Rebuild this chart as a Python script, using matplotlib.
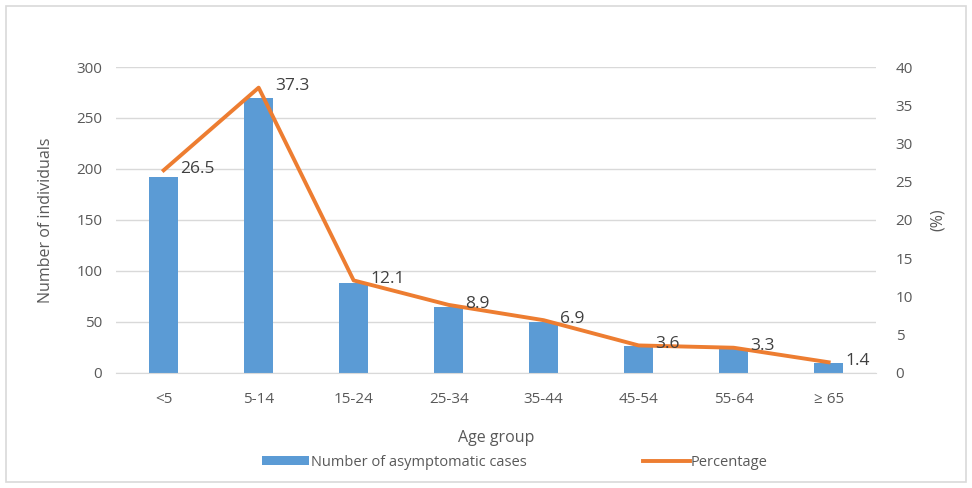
import matplotlib
matplotlib.use("Agg")
import matplotlib.pyplot as plt
from matplotlib.patches import Rectangle
import numpy as np

age_groups = ["<5", "5-14", "15-24", "25-34", "35-44", "45-54", "55-64", "\u2265 65"]
cases = [192, 270, 88, 65, 50, 26, 24, 10]
percentage = [26.5, 37.3, 12.1, 8.9, 6.9, 3.6, 3.3, 1.4]

plt.rcParams['font.family'] = ['Open Sans', 'DejaVu Sans']
text_color = "#595959"
bar_color = "#5b9bd5"
line_color = "#ed7d31"
grid_color = "#d9d9d9"

fig = plt.figure(figsize=(9.72, 4.88), dpi=100)
fig.patches.append(Rectangle((0.006, 0.012), 0.988, 0.975, transform=fig.transFigure,
                             fill=False, edgecolor="#d9d9d9", linewidth=1.2))

ax = fig.add_axes([0.1195, 0.2357, 0.7819, 0.627])
x = np.arange(len(age_groups))
ax.bar(x, cases, width=0.3, color=bar_color, zorder=2, label="Number of asymptomatic cases")
ax.set_xlim(-0.5, len(age_groups) - 0.5)
ax.set_ylim(0, 300)
ax.set_yticks(np.arange(0, 301, 50))
ax.yaxis.grid(True, color=grid_color, linewidth=1)
ax.set_axisbelow(True)
for s in ["top", "right", "left"]:
    ax.spines[s].set_visible(False)
ax.spines["bottom"].set_color(grid_color)
ax.tick_params(axis="y", length=0, labelsize=11, colors=text_color, pad=10)
ax.tick_params(axis="x", length=0, labelsize=11, colors=text_color, pad=14)
ax.set_xticks(x)
ax.set_xticklabels(age_groups)
ax.set_ylabel("Number of individuals", fontsize=11.5, color=text_color, labelpad=16)
ax.set_xlabel("Age group", fontsize=11.5, color=text_color, labelpad=16)

ax2 = ax.twinx()
ax2.plot(x, percentage, color=line_color, linewidth=2.8, zorder=3, label="Percentage",
         solid_joinstyle="round")
ax2.set_ylim(0, 40)
ax2.set_yticks(np.arange(0, 41, 5))
for s in ax2.spines.values():
    s.set_visible(False)
ax2.tick_params(axis="y", length=0, labelsize=11, colors=text_color, pad=14)
ax2.set_ylabel("(%)", fontsize=11.5, color=text_color, rotation=90, labelpad=12)

for xi, p in zip(x, percentage):
    ax2.annotate(f"{p}", (xi, p), xytext=(12, 1), textcoords="offset points",
                 ha="left", va="center", fontsize=12.5, color="#404040", zorder=4)

h1, l1 = ax.get_legend_handles_labels()
h2, l2 = ax2.get_legend_handles_labels()
fig.legend(h1 + h2, l1 + l2, loc="center", bbox_to_anchor=(0.53, 0.053), ncol=2,
           frameon=False, fontsize=10.5, labelcolor=text_color, columnspacing=8,
           handlelength=3.2, handletextpad=0.1, handleheight=0.6)

fig.savefig("out.png", dpi=100)
